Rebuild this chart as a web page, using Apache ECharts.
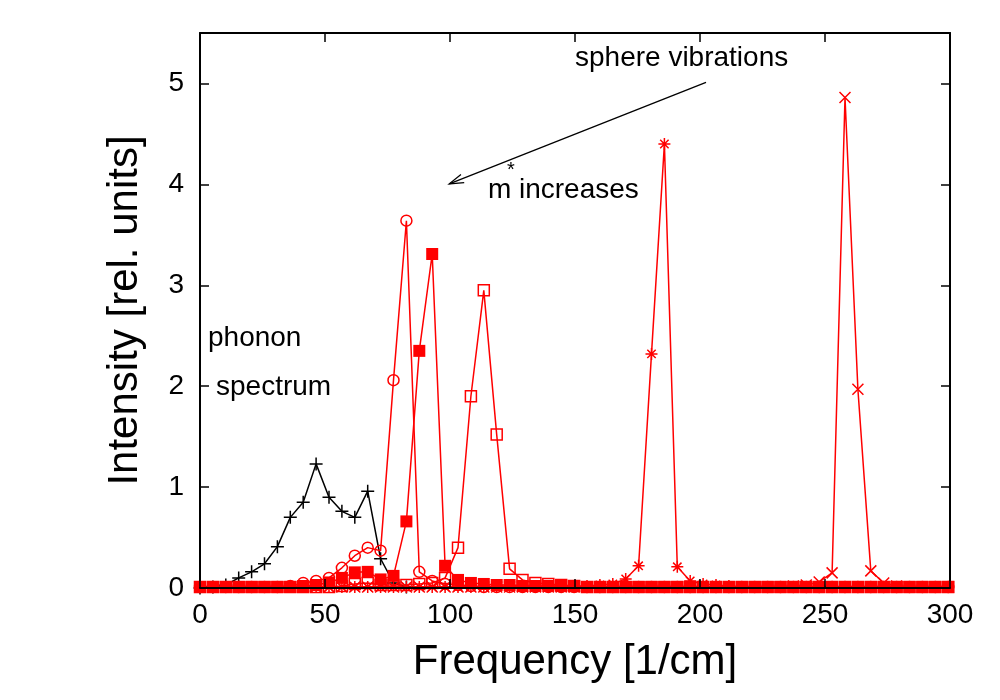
<!DOCTYPE html>
<html><head><meta charset="utf-8">
<script src="https://cdn.jsdelivr.net/npm/echarts@6/dist/echarts.min.js"></script>
<style>html,body{margin:0;padding:0;background:#fff}#c{width:1000px;height:700px}</style>
</head><body><div id="c"></div>
<script>
// Frequency grid [1/cm]
const freq = [
  0, 5.16, 10.32, 15.48, 20.64, 25.8, 30.96, 36.12, 41.28, 46.44,
  51.6, 56.76, 61.92, 67.08, 72.24, 77.4, 82.56, 87.72, 92.88, 98.04,
  103.2, 108.36, 113.52, 118.68, 123.84, 129, 134.16, 139.32, 144.48, 149.64,
  154.8, 159.96, 165.12, 170.28, 175.44, 180.6, 185.76, 190.92, 196.08, 201.24,
  206.4, 211.56, 216.72, 221.88, 227.04, 232.2, 237.36, 242.52, 247.68, 252.84,
  258, 263.16, 268.32, 273.48, 278.64, 283.8, 288.96, 294.12, 299.28
];
// phonon spectrum (black +), first 17 grid points
const phonon = [0, 0.01, 0.03, 0.10, 0.16, 0.24, 0.41, 0.70, 0.85, 1.23, 0.90, 0.76, 0.70, 0.96, 0.29, 0.05, 0.01];
// sphere vibrations, m* increasing
const circleSeries = [
  0.01,0.01,0.01,0.01,0.01,0.01,0.01,0.02,0.05,0.07,
  0.10,0.20,0.32,0.40,0.37,2.06,3.64,0.16,0.07,0.04,
  0.03,0.02,0.01,0.01,0.01,0.01,0.01,0.01,0.01,0.01,
  0.01,0.01,0.01,0.01,0.01,0.01,0.01,0.01,0.01,0.01,
  0.01,0.01,0.01,0.01,0.01,0.01,0.01,0.01,0.01,0.01,
  0.01,0.01,0.01,0.01,0.01,0.01,0.01,0.01,0.01
];
const filledSquareSeries = [
  0.01,0.01,0.01,0.01,0.01,0.01,0.01,0.01,0.02,0.03,
  0.055,0.10,0.155,0.16,0.085,0.12,0.66,2.35,3.31,0.22,
  0.08,0.05,0.04,0.03,0.03,0.02,0.02,0.02,0.02,0.02,
  0.01,0.01,0.01,0.01,0.01,0.01,0.01,0.01,0.01,0.01,
  0.01,0.01,0.01,0.01,0.01,0.01,0.01,0.01,0.01,0.01,
  0.01,0.01,0.01,0.01,0.01,0.01,0.01,0.01,0.01
];
const openSquareSeries = [
  0.01,0.01,0.01,0.01,0.01,0.01,0.01,0.01,0.01,0.01,
  0.01,0.02,0.04,0.05,0.03,0.03,0.03,0.04,0.05,0.10,
  0.40,1.90,2.95,1.52,0.19,0.08,0.05,0.04,0.03,0.02,
  0.01,0.01,0.01,0.01,0.01,0.01,0.01,0.01,0.01,0.01,
  0.01,0.01,0.01,0.01,0.01,0.01,0.01,0.01,0.01,0.01,
  0.01,0.01,0.01,0.01,0.01,0.01,0.01,0.01,0.01
];
const starSeries = [
  0.01,0.01,0.01,0.01,0.01,0.01,0.01,0.01,0.01,0.01,
  0.01,0.01,0.01,0.01,0.01,0.01,0.01,0.01,0.01,0.01,
  0.01,0.01,0.01,0.01,0.01,0.01,0.01,0.01,0.01,0.01,
  0.02,0.03,0.04,0.09,0.22,2.32,4.40,0.21,0.07,0.04,
  0.03,0.02,0.01,0.01,0.01,0.01,0.01,0.01,0.01,0.01,
  0.01,0.01,0.01,0.01,0.01,0.01,0.01,0.01,0.01
];
const crossSeries = [
  0.01,0.01,0.01,0.01,0.01,0.01,0.01,0.01,0.01,0.01,
  0.01,0.01,0.01,0.01,0.01,0.01,0.01,0.01,0.01,0.01,
  0.01,0.01,0.01,0.01,0.01,0.01,0.01,0.01,0.01,0.01,
  0.01,0.01,0.01,0.01,0.01,0.01,0.01,0.01,0.01,0.01,
  0.01,0.01,0.01,0.01,0.01,0.01,0.02,0.03,0.06,0.15,
  4.86,1.97,0.17,0.05,0.02,0.01,0.01,0.01,0.01
];
const xTicks = [0, 50, 100, 150, 200, 250, 300];
const yTicks = [0, 1, 2, 3, 4, 5];

const FONT = '"Liberation Sans", Arial, Helvetica, sans-serif';
const RED = '#ff0000';
const pair = vals => vals.map((v, i) => [freq[i], v]);

const SYM_PLUS = 'path://M0,5 L10,5 M5,0 L5,10';
const SYM_CROSS = 'path://M0,0 L10,10 M0,10 L10,0';
const SYM_STAR = 'path://M0,5 L10,5 M5,0 L5,10 M1.5,1.5 L8.5,8.5 M1.5,8.5 L8.5,1.5';

function mkSeries(vals, color, symbol, size, filled) {
  return {
    type: 'line', data: pair(vals), clip: false, animation: false,
    showAllSymbol: true, symbol: symbol, symbolSize: size,
    lineStyle: { color: color, width: 1.5 },
    itemStyle: { color: filled ? color : 'rgba(0,0,0,0)', borderColor: color, borderWidth: filled ? 0 : 1.5 },
    emphasis: { disabled: true }
  };
}

const chart = echarts.init(document.getElementById('c'), null, { renderer: 'canvas' });
const axisCommon = {
  type: 'value', splitLine: { show: false },
  axisLine: { show: true, onZero: false, lineStyle: { color: '#000', width: 2 } },
  axisTick: { show: true, inside: true, length: 9, lineStyle: { color: '#000', width: 1.5 } }
};
chart.setOption({
  backgroundColor: '#fff',
  animation: false,
  grid: { left: 200, right: 50, top: 33, bottom: 112, show: false },
  xAxis: [
    Object.assign({}, axisCommon, {
      position: 'bottom', min: xTicks[0], max: xTicks[xTicks.length - 1], interval: 50, z: 10,
      axisLabel: { fontSize: 28, color: '#000', fontFamily: FONT, margin: 13 },
      name: 'Frequency [1/cm]', nameLocation: 'middle', nameGap: 53,
      nameTextStyle: { fontSize: 42, color: '#000', fontFamily: FONT }
    }),
    Object.assign({}, axisCommon, {
      position: 'top', min: xTicks[0], max: xTicks[xTicks.length - 1], interval: 50,
      axisLabel: { show: false }
    })
  ],
  yAxis: [
    Object.assign({}, axisCommon, {
      position: 'left', min: yTicks[0], max: 5.5, interval: 1,
      axisLabel: { fontSize: 28, color: '#000', fontFamily: FONT, margin: 16, showMaxLabel: false,
        formatter: v => (yTicks.indexOf(v) >= 0 ? String(v) : '') },
      name: 'Intensity [rel. units]', nameLocation: 'middle', nameGap: 54, nameRotate: 90,
      nameTextStyle: { fontSize: 42, color: '#000', fontFamily: FONT }
    }),
    Object.assign({}, axisCommon, {
      position: 'right', min: yTicks[0], max: 5.5, interval: 1,
      axisLabel: { show: false }
    })
  ],
  series: [
    Object.assign(mkSeries(phonon, '#000', SYM_PLUS, 13, false), {
      markLine: {
        silent: true, symbol: ['none', 'none'], animation: false,
        lineStyle: { color: '#000', width: 1.3, type: 'solid' }, label: { show: false },
        data: [[{ coord: [202.4, 5.01] }, { coord: [99.7, 4.005] }]]
      }
    }),
    mkSeries(circleSeries, RED, 'circle', 11, false),
    mkSeries(openSquareSeries, RED, 'rect', 11, false),
    mkSeries(starSeries, RED, SYM_STAR, 12, false),
    mkSeries(crossSeries, RED, SYM_CROSS, 11, false),
    mkSeries(filledSquareSeries, RED, 'rect', 12, true)
  ]
});

// annotations
const tip = chart.convertToPixel({ gridIndex: 0 }, [99.7, 4.005]);
const tail = chart.convertToPixel({ gridIndex: 0 }, [202.4, 5.01]);
const ang = Math.atan2(tail[1] - tip[1], tail[0] - tip[0]);
const hl = 15, ha = 0.3;
const b1 = [tip[0] + hl * Math.cos(ang + ha), tip[1] + hl * Math.sin(ang + ha)];
const b2 = [tip[0] + hl * Math.cos(ang - ha), tip[1] + hl * Math.sin(ang - ha)];
const txt = (x, y, s, size) => ({
  type: 'text', x: x, y: y, z: 20,
  style: { text: s, fill: '#000', font: (size || 28) + 'px ' + FONT, align: 'left', verticalAlign: 'middle' }
});
chart.setOption({
  graphic: [
    { type: 'polyline', z: 20, shape: { points: [b1, tip, b2] }, style: { stroke: '#000', lineWidth: 1.3, fill: null } },
    txt(575, 58, 'sphere vibrations'),
    txt(488, 190, 'm'),
    txt(507, 170, '*', 20),
    txt(519, 190, 'increases'),
    txt(208, 338, 'phonon'),
    txt(216, 387, 'spectrum')
  ]
});
</script>
</body></html>
